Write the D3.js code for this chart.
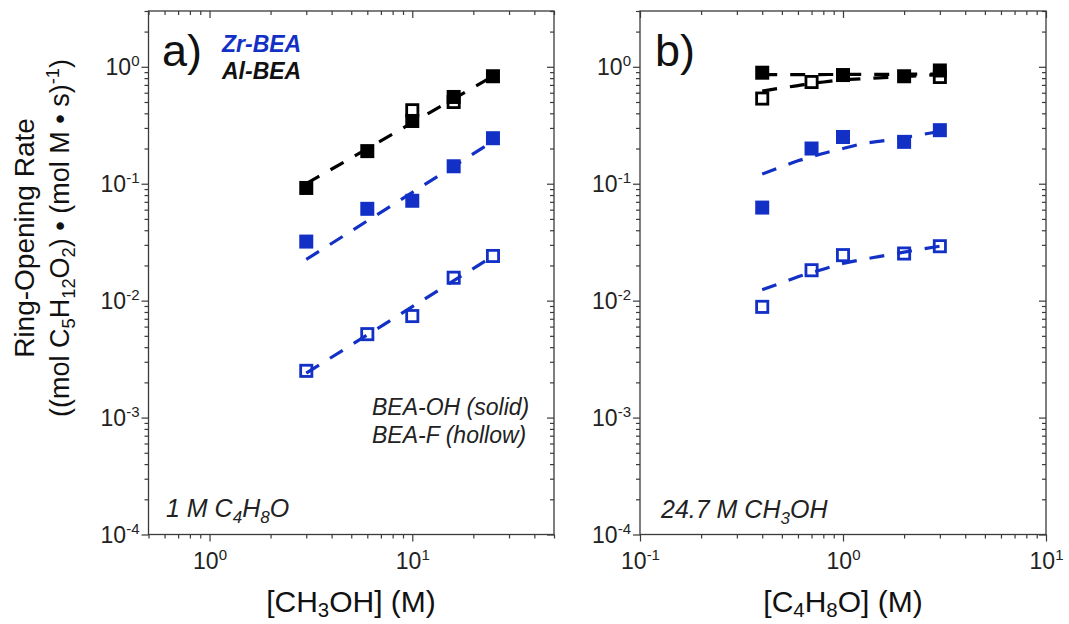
<!DOCTYPE html>
<html>
<head>
<meta charset="utf-8">
<script src="https://cdn.jsdelivr.net/npm/d3@7"></script>
<style>
  html, body { margin: 0; padding: 0; background: #fff; }
  svg { display: block; }
</style>
</head>
<body>
<svg id="chart" width="1069" height="624"></svg>
<script>
// ---- data ----
// panel a: rate vs methanol concentration (1 M THF)
const methanolConc = [3, 6, 10, 16, 25];
const alOhRateA = [0.092, 0.19, 0.344, 0.552, 0.83];
const alFConcA = [10, 16];
const alFRateA = [0.425, 0.50];
const zrOhRateA = [0.032, 0.061, 0.0715, 0.141, 0.245];
const zrFRateA = [0.00251, 0.00517, 0.00738, 0.0157, 0.0241];
// power-law fits (straight on log-log), end points
const fitConcA = [3, 25];
const alFitA = [0.10, 0.83];
const zrOhFitA = [0.0225, 0.23];
const zrFFitA = [0.0024, 0.024];

// panel b: rate vs THF concentration (24.7 M methanol)
const thfConcOh = [0.4, 1, 2, 3];
const alOhRateB = [0.89, 0.85, 0.83, 0.93];
const thfConcF = [0.4, 0.7, 3];
const alFRateB = [0.535, 0.741, 0.818];
const thfConc = [0.4, 0.7, 1, 2, 3];
const zrOhRateB = [0.0625, 0.20, 0.251, 0.228, 0.287];
const zrFRateB = [0.00885, 0.0182, 0.0245, 0.0253, 0.0292];
// saturation fits
const fitConcB = [0.4, 0.5, 0.6, 0.7, 0.85, 1, 1.25, 1.5, 2, 2.5, 3];
const alOhFitB = [0.855, 0.856, 0.857, 0.858, 0.859, 0.86, 0.861, 0.862, 0.864, 0.866, 0.868];
const alFFitB = [0.62, 0.66, 0.69, 0.72, 0.75, 0.775, 0.79, 0.805, 0.825, 0.843, 0.858];
const zrOhFitB = [0.121, 0.14, 0.157, 0.170, 0.187, 0.20, 0.22, 0.23, 0.248, 0.265, 0.28];
const zrFFitB = [0.0124, 0.0142, 0.016, 0.0173, 0.0192, 0.0208, 0.0225, 0.0238, 0.026, 0.0278, 0.0292];

// axes
const yDomain = [1e-4, 3];
const yMajorTicks = [1e-4, 1e-3, 1e-2, 1e-1, 1];
const xDomainA = [0.5, 50];
const xMajorTicksA = [1, 10];
const xDomainB = [0.1, 10];
const xMajorTicksB = [0.1, 1, 10];

// ---- drawing ----
const FONT = "'Liberation Sans', Arial, Helvetica, sans-serif";
const BLUE = "#1230c6";
const BLACK = "#000";
const AXIS = "#3a3a3a";

const svg = d3.select("#chart").style("font-family", FONT);
svg.append("rect").attr("width", 1069).attr("height", 624).attr("fill", "#fff");

const plotTop = 11, plotBottom = 534.5;
const y = d3.scaleLog().domain(yDomain).range([plotBottom, plotTop]);

function minorTicks(domain) {
  const out = [];
  const lo = Math.floor(Math.log10(domain[0])), hi = Math.ceil(Math.log10(domain[1]));
  for (let e = lo; e < hi; e++) {
    for (let m = 2; m <= 9; m++) {
      const v = m * Math.pow(10, e);
      if (v >= domain[0] * 0.999 && v <= domain[1] * 1.001) out.push(v);
    }
  }
  return out;
}

// "10" with the exponent raised
function exponentLabel(sel) {
  sel.each(function (d) {
    const t = d3.select(this);
    const e = Math.round(Math.log10(d));
    t.text(null);
    t.append("tspan").text("10");
    t.append("tspan").attr("font-size", 15).attr("dy", -9).text(String(e));
  });
}

function drawPanel(x0, x1, xDomain, xMajor) {
  const x = d3.scaleLog().domain(xDomain).range([x0, x1]);
  const g = svg.append("g");
  const strip = a => a.selectAll("path").remove();

  // bottom axis (ticks outward)
  const bMaj = g.append("g").attr("transform", `translate(0,${plotBottom})`)
    .call(d3.axisBottom(x).tickValues(xMajor).tickSize(7).tickFormat(d => d));
  const bMin = g.append("g").attr("transform", `translate(0,${plotBottom})`)
    .call(d3.axisBottom(x).tickValues(minorTicks(xDomain)).tickSize(4).tickFormat(""));
  // top axis (ticks inward)
  const tMaj = g.append("g").attr("transform", `translate(0,${plotTop})`)
    .call(d3.axisTop(x).tickValues(xMajor).tickSize(-7).tickFormat(""));
  const tMin = g.append("g").attr("transform", `translate(0,${plotTop})`)
    .call(d3.axisTop(x).tickValues(minorTicks(xDomain)).tickSize(-4).tickFormat(""));
  // left axis (ticks outward)
  const lMaj = g.append("g").attr("transform", `translate(${x0},0)`)
    .call(d3.axisLeft(y).tickValues(yMajorTicks).tickSize(7).tickFormat(d => d));
  const lMin = g.append("g").attr("transform", `translate(${x0},0)`)
    .call(d3.axisLeft(y).tickValues(minorTicks(yDomain)).tickSize(4).tickFormat(""));
  // right axis (ticks inward)
  const rMaj = g.append("g").attr("transform", `translate(${x1},0)`)
    .call(d3.axisRight(y).tickValues(yMajorTicks).tickSize(-7).tickFormat(""));
  const rMin = g.append("g").attr("transform", `translate(${x1},0)`)
    .call(d3.axisRight(y).tickValues(minorTicks(yDomain)).tickSize(-4).tickFormat(""));

  [bMaj, bMin, tMaj, tMin, lMaj, lMin, rMaj, rMin].forEach(a => {
    strip(a);
    a.selectAll("line").attr("stroke", AXIS).attr("stroke-width", 1.2);
  });

  bMaj.selectAll("text").attr("y", 34).attr("dy", 0)
    .attr("font-size", 23).attr("fill", "#222").attr("font-family", FONT).call(exponentLabel);
  lMaj.selectAll("text").attr("x", -9).attr("dy", 8)
    .attr("font-size", 23).attr("fill", "#222").attr("font-family", FONT).call(exponentLabel);

  // frame
  g.append("rect").attr("x", x0).attr("y", plotTop).attr("width", x1 - x0).attr("height", plotBottom - plotTop)
    .attr("fill", "none").attr("stroke", AXIS).attr("stroke-width", 1.3);

  return { g, x };
}

function fitLine(panel, xs, ys, color, curved) {
  const line = d3.line()
    .x((d, i) => panel.x(xs[i]))
    .y(d => y(d))
    .curve(curved ? d3.curveMonotoneX : d3.curveLinear);
  panel.g.append("path").attr("d", line(ys)).attr("fill", "none")
    .attr("stroke", color).attr("stroke-width", 3.2)
    .attr("stroke-dasharray", "15,13");
}

function squares(panel, xs, ys, color, solid) {
  const s = 14, sw = 2.8;
  const side = solid ? s : s - sw;
  panel.g.append("g").selectAll("rect").data(ys).join("rect")
    .attr("x", (d, i) => panel.x(xs[i]) - side / 2)
    .attr("y", d => y(d) - side / 2)
    .attr("width", side)
    .attr("height", side)
    .attr("fill", solid ? color : "none")
    .attr("stroke", solid ? "none" : color)
    .attr("stroke-width", solid ? 0 : sw);
}

// panel a
const pa = drawPanel(148.5, 554, xDomainA, xMajorTicksA);
fitLine(pa, fitConcA, alFitA, BLACK, false);
fitLine(pa, fitConcA, zrOhFitA, BLUE, false);
fitLine(pa, fitConcA, zrFFitA, BLUE, false);
squares(pa, alFConcA, alFRateA, BLACK, false);
squares(pa, methanolConc, alOhRateA, BLACK, true);
squares(pa, methanolConc, zrOhRateA, BLUE, true);
squares(pa, methanolConc, zrFRateA, BLUE, false);

// panel b
const pb = drawPanel(640, 1046, xDomainB, xMajorTicksB);
fitLine(pb, fitConcB, alOhFitB, BLACK, true);
fitLine(pb, fitConcB, alFFitB, BLACK, true);
fitLine(pb, fitConcB, zrOhFitB, BLUE, true);
fitLine(pb, fitConcB, zrFFitB, BLUE, true);
squares(pb, thfConcF, alFRateB, BLACK, false);
squares(pb, thfConcOh, alOhRateB, BLACK, true);
squares(pb, thfConc, zrOhRateB, BLUE, true);
squares(pb, thfConc, zrFRateB, BLUE, false);

// ---- text ----
function richText(parent, x, yPos, parts, opts) {
  const t = parent.append("text").attr("x", x).attr("y", yPos)
    .attr("font-size", opts.size).attr("fill", opts.color || "#111")
    .attr("text-anchor", opts.anchor || "start")
    .attr("font-style", opts.italic ? "italic" : "normal")
    .attr("font-weight", opts.bold ? "bold" : "normal");
  let shift = 0;
  parts.forEach(p => {
    const kind = typeof p === "string" ? "n" : p[0];
    const txt = typeof p === "string" ? p : p[1];
    const target = kind === "sub" ? opts.subShift : kind === "sup" ? -opts.supShift : 0;
    const ts = t.append("tspan").text(txt).attr("dy", target - shift);
    if (kind !== "n") ts.attr("font-size", opts.size * 0.68);
    shift = target;
  });
  return t;
}

// panel letters and legend
svg.append("text").attr("x", 162).attr("y", 66).attr("font-size", 45).attr("fill", "#111").text("a)");
svg.append("text").attr("x", 655).attr("y", 66).attr("font-size", 45).attr("fill", "#111").text("b)");
svg.append("text").attr("x", 222).attr("y", 52).attr("font-size", 23).attr("font-weight", "bold")
  .attr("font-style", "italic").attr("fill", BLUE).text("Zr-BEA");
svg.append("text").attr("x", 222).attr("y", 79).attr("font-size", 23).attr("font-weight", "bold")
  .attr("font-style", "italic").attr("fill", "#111").text("Al-BEA");

// notes
svg.append("text").attr("x", 372).attr("y", 415).attr("font-size", 23).attr("font-style", "italic")
  .attr("fill", "#222").text("BEA-OH (solid)");
svg.append("text").attr("x", 372).attr("y", 443).attr("font-size", 23).attr("font-style", "italic")
  .attr("fill", "#222").text("BEA-F (hollow)");
richText(svg, 166, 517, ["1 M C", ["sub", "4"], "H", ["sub", "8"], "O"],
  { size: 25, italic: true, subShift: 6, color: "#222" });
richText(svg, 661, 518, ["24.7 M CH", ["sub", "3"], "OH"],
  { size: 25, italic: true, subShift: 6, color: "#222" });

// axis titles
richText(svg, 351, 612, ["[CH", ["sub", "3"], "OH] (M)"],
  { size: 30, anchor: "middle", subShift: 5, color: "#111" });
richText(svg, 843, 612, ["[C", ["sub", "4"], "H", ["sub", "8"], "O] (M)"],
  { size: 30, anchor: "middle", subShift: 5, color: "#111" });

const yt1 = svg.append("g").attr("transform", "translate(34,238) rotate(-90)");
richText(yt1, 0, 0, ["Ring-Opening Rate"], { size: 28, anchor: "middle", color: "#111" });
const yt2 = svg.append("g").attr("transform", "translate(69,238) rotate(-90)");
richText(yt2, 0, 0, ["((mol C", ["sub", "5"], "H", ["sub", "12"], "O", ["sub", "2"], ") \u2022 (mol M \u2022 s)", ["sup", "-1"], ")"],
  { size: 27, anchor: "middle", subShift: 6, supShift: 10, color: "#111" });
</script>
</body>
</html>
